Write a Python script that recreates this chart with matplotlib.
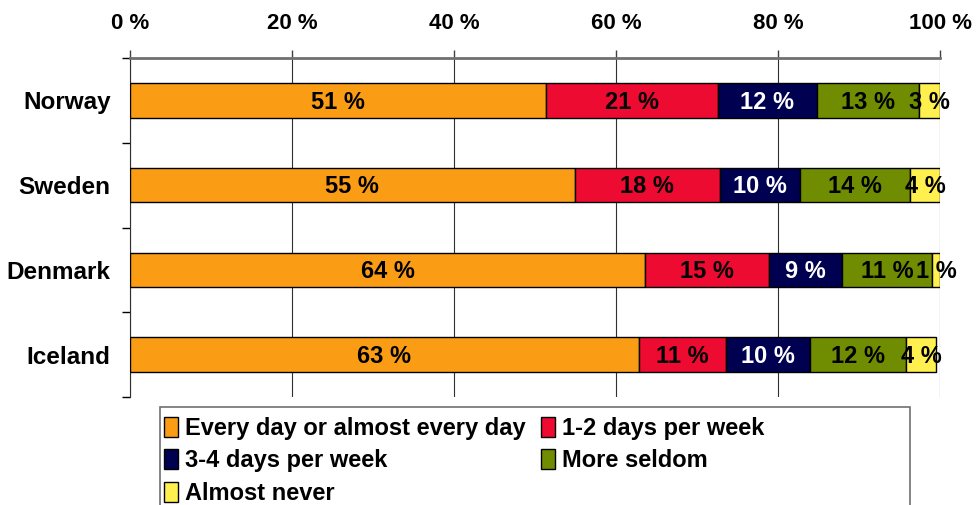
import numpy as np
import matplotlib.pyplot as plt
from matplotlib.patches import Rectangle

plt.rcParams['font.family'] = ['Liberation Sans', 'DejaVu Sans']
plt.rcParams['font.weight'] = 'bold'

countries = ['Norway', 'Sweden', 'Denmark', 'Iceland']
series = ['Every day or almost every day', '1-2 days per week',
          '3-4 days per week', 'More seldom', 'Almost never']
# shares in percent (labels are rounded)
every_day = [51.4, 54.9, 63.6, 62.8]
one_two = [21.2, 17.9, 15.3, 10.8]
three_four = [12.2, 9.9, 9.0, 10.3]
seldom = [12.6, 13.6, 11.1, 11.9]
never = [2.6, 3.7, 1.0, 3.7]
colors = ['#FA9D14', '#EE0B32', '#000050', '#708C00', '#FFF050']
label_colors = ['black', 'black', 'white', 'black', 'black']

data = [every_day, one_two, three_four, seldom, never]

fig = plt.figure(figsize=(9.8, 5.05), dpi=100)
ax = fig.add_axes([130/980, 1-397/505, 810/980, 339/505])

y = np.arange(len(countries))
left = np.zeros(len(countries))
handles = []
for vals, name, c, tc in zip(data, series, colors, label_colors):
    vals = np.array(vals)
    b = ax.barh(y, vals, left=left, height=0.41, color=c, edgecolor='black',
                linewidth=1.0, label=name, zorder=3)
    handles.append(b)
    for yi, l, v in zip(y, left, vals):
        ax.text(l + v/2, yi + 0.02, f'{v:.0f} %', ha='center', va='center',
                color=tc, fontsize=17, fontweight='bold', zorder=4)
    left += vals

ax.set_xlim(0, 100)
ax.set_ylim(3.5, -0.5)
ax.xaxis.tick_top()
ax.set_xticks(np.arange(0, 101, 20))
ax.set_xticklabels([f'{t} %' for t in range(0, 101, 20)])
ax.tick_params(axis='x', direction='out', length=6, width=1, color='#404040',
               labelsize=16, pad=11)
ax.set_yticks(y)
ax.set_yticklabels(countries)
ax.tick_params(axis='y', length=0, labelsize=17.5, pad=14)
ax.set_yticks(np.arange(-0.5, 4, 1), minor=True)
ax.tick_params(axis='y', which='minor', length=6, width=1, direction='out')
ax.grid(axis='x', color='#303030', linewidth=0.8, zorder=0)
for s in ['right', 'bottom']:
    ax.spines[s].set_visible(False)
ax.spines['top'].set_color('#707070')
ax.spines['top'].set_linewidth(2)
ax.spines['left'].set_color('#303030')

# legend box drawn separately so it can run off the bottom like the original
fig.patches.append(Rectangle((160/980, -0.05), 750/980, 0.05 + 1-407/505,
                             transform=fig.transFigure, fill=False,
                             edgecolor='#707070', linewidth=1.2))
order = [0, 2, 4, 1, 3]
leg = fig.legend([handles[i] for i in order], [series[i] for i in order],
                 loc='upper left', bbox_to_anchor=(164/980, 1-417/505),
                 ncol=2, fontsize=17, frameon=False,
                 handlelength=0.6, handleheight=0.9, handletextpad=0.3,
                 columnspacing=0.65, borderaxespad=0, labelspacing=0.4,
                 borderpad=0.0)

fig.savefig('out.png', dpi=100)
